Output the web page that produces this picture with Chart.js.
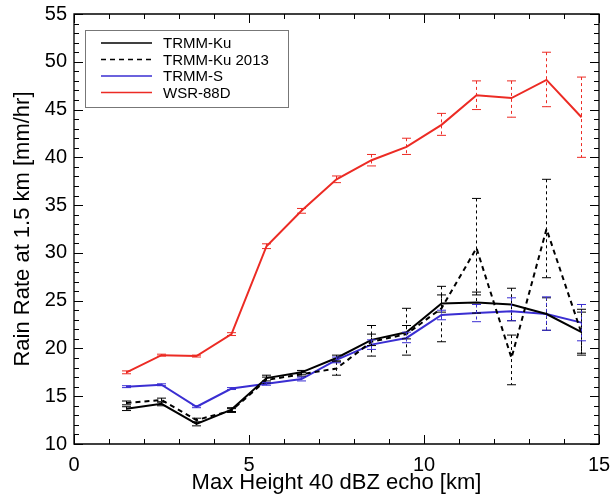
<!DOCTYPE html>
<html>
<head>
<meta charset="utf-8">
<script src="https://cdn.jsdelivr.net/npm/chart.js@4.4.1/dist/chart.umd.min.js"></script>
<style>
  html, body { margin: 0; padding: 0; background: #fff; }
  #wrap { width: 612px; height: 496px; }
</style>
</head>
<body>
<div id="wrap"><canvas id="chart"></canvas></div>
<script>
// Max height of the 40 dBZ echo (bin centres, km)
const heights = [1.5, 2.5, 3.5, 4.5, 5.5, 6.5, 7.5, 8.5, 9.5, 10.5, 11.5, 12.5, 13.5, 14.5];

// Rain rate at 1.5 km [mm/hr], with error bar ends
const kuRate = [13.7, 14.2, 12.1, 13.6, 16.9, 17.5, 19.0, 20.9, 21.7, 24.7, 24.8, 24.6, 23.6, 21.7];
const kuLo   = [13.5, 14.0, 11.9, 13.4, 16.6, 17.3, 18.7, 20.3, 21.0, 23.8, 23.7, 22.9, 21.9, 19.3];
const kuHi   = [13.9, 14.4, 12.3, 13.8, 17.2, 17.7, 19.3, 21.5, 22.4, 25.6, 25.9, 26.3, 25.3, 24.1];

const ku13Rate = [14.3, 14.6, 12.5, 13.5, 16.7, 17.3, 17.9, 20.7, 21.5, 24.2, 30.5, 19.0, 32.5, 21.6];
const ku13Lo   = [14.1, 14.4, 12.3, 13.3, 16.4, 17.1, 17.2, 19.2, 19.3, 20.7, 25.6, 16.2, 27.4, 19.5];
const ku13Hi   = [14.5, 14.8, 12.7, 13.7, 17.0, 17.5, 18.6, 22.4, 24.2, 26.5, 35.7, 21.4, 37.7, 23.8];

const sRate = [16.0, 16.2, 13.9, 15.8, 16.3, 16.8, 18.8, 20.4, 21.1, 23.5, 23.7, 23.9, 23.6, 22.7];
const sLo   = [15.9, 16.1, 13.8, 15.7, 16.15, 16.6, 18.5, 19.9, 20.6, 23.0, 22.8, 22.9, 21.9, 20.8];
const sHi   = [16.1, 16.3, 14.0, 15.9, 16.45, 17.0, 19.1, 20.9, 21.7, 24.0, 24.6, 25.3, 25.4, 24.6];

const nexRate = [17.5, 19.3, 19.2, 21.5, 30.7, 34.4, 37.7, 39.7, 41.1, 43.4, 46.5, 46.2, 48.1, 44.2];
const nexLo   = [17.35, 19.2, 19.1, 21.35, 30.45, 34.15, 37.35, 39.1, 40.3, 42.3, 45.0, 44.2, 45.3, 40.0];
const nexHi   = [17.65, 19.4, 19.3, 21.65, 30.95, 34.65, 38.05, 40.3, 42.0, 44.6, 48.0, 48.0, 51.0, 48.4];

const xTicks = [0, 5, 10, 15];
const yTicks = [10, 15, 20, 25, 30, 35, 40, 45, 50, 55];

const RED = '#ec2b24';
const BLUE = '#3a2ed2';
const FONT = "'Liberation Sans', Arial, sans-serif";

const pts = vals => vals.map((v, i) => ({ x: heights[i], y: v }));

function series(label, vals, lo, hi, color, dash) {
  return {
    label,
    data: pts(vals),
    errLo: lo,
    errHi: hi,
    borderColor: color,
    backgroundColor: color,
    borderWidth: 2,
    borderDash: dash || [],
    pointRadius: 0,
    tension: 0,
    fill: false,
  };
}

// vertical dashed error bars with short caps, drawn from the scales
const errorBarPlugin = {
  id: 'errorBars',
  afterDatasetsDraw(chart) {
    const { ctx, scales: { x, y } } = chart;
    ctx.save();
    ctx.lineWidth = 1;
    chart.data.datasets.forEach(ds => {
      ctx.strokeStyle = ds.borderColor;
      ds.data.forEach((p, i) => {
        const px = x.getPixelForValue(p.x);
        const top = y.getPixelForValue(ds.errHi[i]);
        const bot = y.getPixelForValue(ds.errLo[i]);
        ctx.setLineDash([3, 3]);
        ctx.beginPath();
        ctx.moveTo(px, top); ctx.lineTo(px, bot);
        ctx.stroke();
        ctx.setLineDash([]);
        ctx.beginPath();
        ctx.moveTo(px - 4.5, top); ctx.lineTo(px + 4.5, top);
        ctx.moveTo(px - 4.5, bot); ctx.lineTo(px + 4.5, bot);
        ctx.stroke();
      });
    });
    ctx.restore();
  }
};

// IDL-style inward ticks on all four sides
const frameTicksPlugin = {
  id: 'frameTicks',
  afterDraw(chart) {
    const { ctx, chartArea: a, scales: { x, y } } = chart;
    ctx.save();
    ctx.strokeStyle = '#000';
    ctx.lineWidth = 1.3;
    ctx.beginPath();
    ctx.rect(a.left, a.top, a.right - a.left, a.bottom - a.top);
    ctx.stroke();
    ctx.lineWidth = 1;
    for (let v = x.min; v <= x.max; v += 1) {
      const px = Math.round(x.getPixelForValue(v)) + 0.5;
      const len = v % 5 === 0 ? 9 : 5;
      ctx.beginPath();
      ctx.moveTo(px, a.bottom); ctx.lineTo(px, a.bottom - len);
      ctx.moveTo(px, a.top); ctx.lineTo(px, a.top + len);
      ctx.stroke();
    }
    for (let v = y.min; v <= y.max; v += 1) {
      const py = Math.round(y.getPixelForValue(v)) + 0.5;
      const len = v % 5 === 0 ? 9 : 5;
      ctx.beginPath();
      ctx.moveTo(a.left, py); ctx.lineTo(a.left + len, py);
      ctx.moveTo(a.right, py); ctx.lineTo(a.right - len, py);
      ctx.stroke();
    }
    ctx.restore();
  }
};

// boxed legend inside the upper-left corner of the plot
const boxLegendPlugin = {
  id: 'boxLegend',
  afterDraw(chart) {
    const { ctx, chartArea: a } = chart;
    const left = a.left + 11, top = a.top + 16, w = 203, h = 77;
    ctx.save();
    ctx.fillStyle = '#fff';
    ctx.fillRect(left, top, w, h);
    ctx.strokeStyle = '#777';
    ctx.lineWidth = 1;
    ctx.strokeRect(left + 0.5, top + 0.5, w, h);
    ctx.font = '15px ' + FONT;
    ctx.textBaseline = 'middle';
    chart.data.datasets.forEach((ds, i) => {
      const ly = top + 13 + i * 16.5;
      ctx.strokeStyle = ds.borderColor;
      ctx.lineWidth = 1.5;
      ctx.setLineDash(ds.borderDash);
      ctx.beginPath();
      ctx.moveTo(left + 16, ly); ctx.lineTo(left + 67, ly);
      ctx.stroke();
      ctx.setLineDash([]);
      ctx.fillStyle = '#000';
      ctx.fillText(ds.label, left + 78, ly + 1);
    });
    ctx.restore();
  }
};

new Chart(document.getElementById('chart'), {
  type: 'line',
  data: {
    datasets: [
      series('TRMM-Ku', kuRate, kuLo, kuHi, '#000'),
      series('TRMM-Ku 2013', ku13Rate, ku13Lo, ku13Hi, '#000', [5, 4]),
      series('TRMM-S', sRate, sLo, sHi, BLUE),
      series('WSR-88D', nexRate, nexLo, nexHi, RED),
    ]
  },
  plugins: [errorBarPlugin, frameTicksPlugin, boxLegendPlugin],
  options: {
    responsive: true, maintainAspectRatio: false, animation: false,
    layout: { padding: { top: 14, right: 13, left: 0, bottom: 0 } },
    plugins: { legend: { display: false }, tooltip: { enabled: false } },
    scales: {
      x: {
        type: 'linear', min: 0, max: 15,
        afterBuildTicks: s => { s.ticks = xTicks.map(v => ({ value: v })); },
        afterFit: s => { s.height = 52; s.paddingLeft = 0; s.paddingRight = 0; },
        grid: { display: false, drawTicks: false },
        border: { display: false },
        ticks: { color: '#000', font: { family: FONT, size: 20 }, padding: 9 },
        title: { display: true, text: 'Max Height 40 dBZ echo [km]', color: '#000', font: { family: FONT, size: 22 }, padding: { top: 2, bottom: 0 } }
      },
      y: {
        type: 'linear', min: 10, max: 55,
        afterBuildTicks: s => { s.ticks = yTicks.map(v => ({ value: v })); },
        afterFit: s => { s.width = 74; s.paddingTop = 0; s.paddingBottom = 0; },
        grid: { display: false, drawTicks: false },
        border: { display: false },
        ticks: { color: '#000', font: { family: FONT, size: 20 }, padding: 7 },
        title: { display: true, text: 'Rain Rate at 1.5 km [mm/hr]', color: '#000', font: { family: FONT, size: 22 }, padding: { top: 10, bottom: 0 } }
      }
    }
  }
});
</script>
</body>
</html>
